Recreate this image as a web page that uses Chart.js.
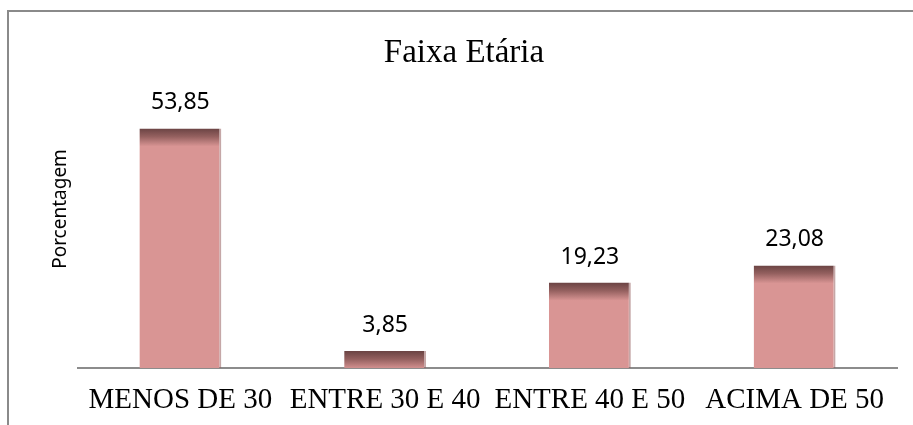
<!DOCTYPE html>
<html>
<head>
<meta charset="utf-8">
<script src="https://cdn.jsdelivr.net/npm/chart.js@4/dist/chart.umd.min.js"></script>
<style>
html, body { margin: 0; padding: 0; background: #fff; }
#wrap { position: relative; width: 913px; height: 425px; overflow: hidden; }
#frame { position: absolute; left: 7px; top: 10px; width: 2000px; height: 2000px;
         border-left: 2px solid #8a8a8a; border-top: 2px solid #8a8a8a; }
canvas { position: absolute; left: 0; top: 0; }
</style>
</head>
<body>
<div id="wrap">
  <div id="frame"></div>
  <canvas id="faixaChart" width="913" height="425"></canvas>
</div>
<script>
// ===== dados =====
const chartTitle = "Faixa Etária";
const yTitle = "Porcentagem";
const categorias = ["MENOS DE 30", "ENTRE 30 E 40", "ENTRE 40 E 50", "ACIMA DE 50"];
const porcentagens = [53.85, 3.85, 19.23, 23.08];

const barColor = "#d99594";

// rótulos, título e título do eixo y
const textPlugin = {
    id: "textos",
    afterDatasetsDraw(chart) {
        const c = chart.ctx;
        const meta = chart.getDatasetMeta(0);
        c.save();
        c.fillStyle = "#000";
        c.font = "23px 'Noto Sans'";
        c.textAlign = "center";
        c.textBaseline = "alphabetic";
        meta.data.forEach((bar, i) => {
            const txt = porcentagens[i].toFixed(2).replace(".", ",");
            c.fillText(txt, bar.x, bar.y - 19);
        });

        // título
        c.font = "33px 'Liberation Serif'";
        c.textBaseline = "middle";
        c.fillText(chartTitle, 464, 53);

        // eixo y
        c.translate(61, 209);
        c.rotate(-Math.PI / 2);
        c.font = "19px 'Noto Sans'";
        c.fillText(yTitle, 0, 0);
        c.restore();
    }
};

function barGradient(context) {
    const chart = context.chart;
    const y = chart.scales && chart.scales.y;
    if (context.type !== "data" || !y) return barColor;
    const top = y.getPixelForValue(context.raw);
    if (!isFinite(top)) return barColor;
    const g = chart.ctx.createLinearGradient(0, top, 0, top + 18);
    g.addColorStop(0, "#6a4343");
    g.addColorStop(0.45, "#94605f");
    g.addColorStop(1, barColor);
    return g;
}

new Chart(document.getElementById("faixaChart"), {
    type: "bar",
    data: {
        labels: categorias,
        datasets: [{
            label: yTitle,
            data: porcentagens,
            backgroundColor: barGradient,
            borderColor: "rgba(150, 95, 95, 0.55)",
            borderWidth: { top: 0, left: 0, bottom: 0, right: 2 },
            categoryPercentage: 1,
            barPercentage: 0.4
        }]
    },
    options: {
        responsive: false,
        devicePixelRatio: 1,
        animation: false,
        layout: { padding: { left: 78, right: 16, top: 101, bottom: -8 } },
        plugins: {
            legend: { display: false },
            title: { display: false },
            tooltip: { enabled: false }
        },
        scales: {
            x: {
                grid: { display: false, drawTicks: false },
                border: { display: true, color: "#8c8c8c", width: 2 },
                ticks: {
                    color: "#000",
                    padding: 15,
                    maxRotation: 0,
                    font: { family: "'Liberation Serif'", size: 29 }
                }
            },
            y: {
                display: false,
                min: 0,
                max: 60
            }
        }
    },
    plugins: [textPlugin]
});
</script>
</body>
</html>
